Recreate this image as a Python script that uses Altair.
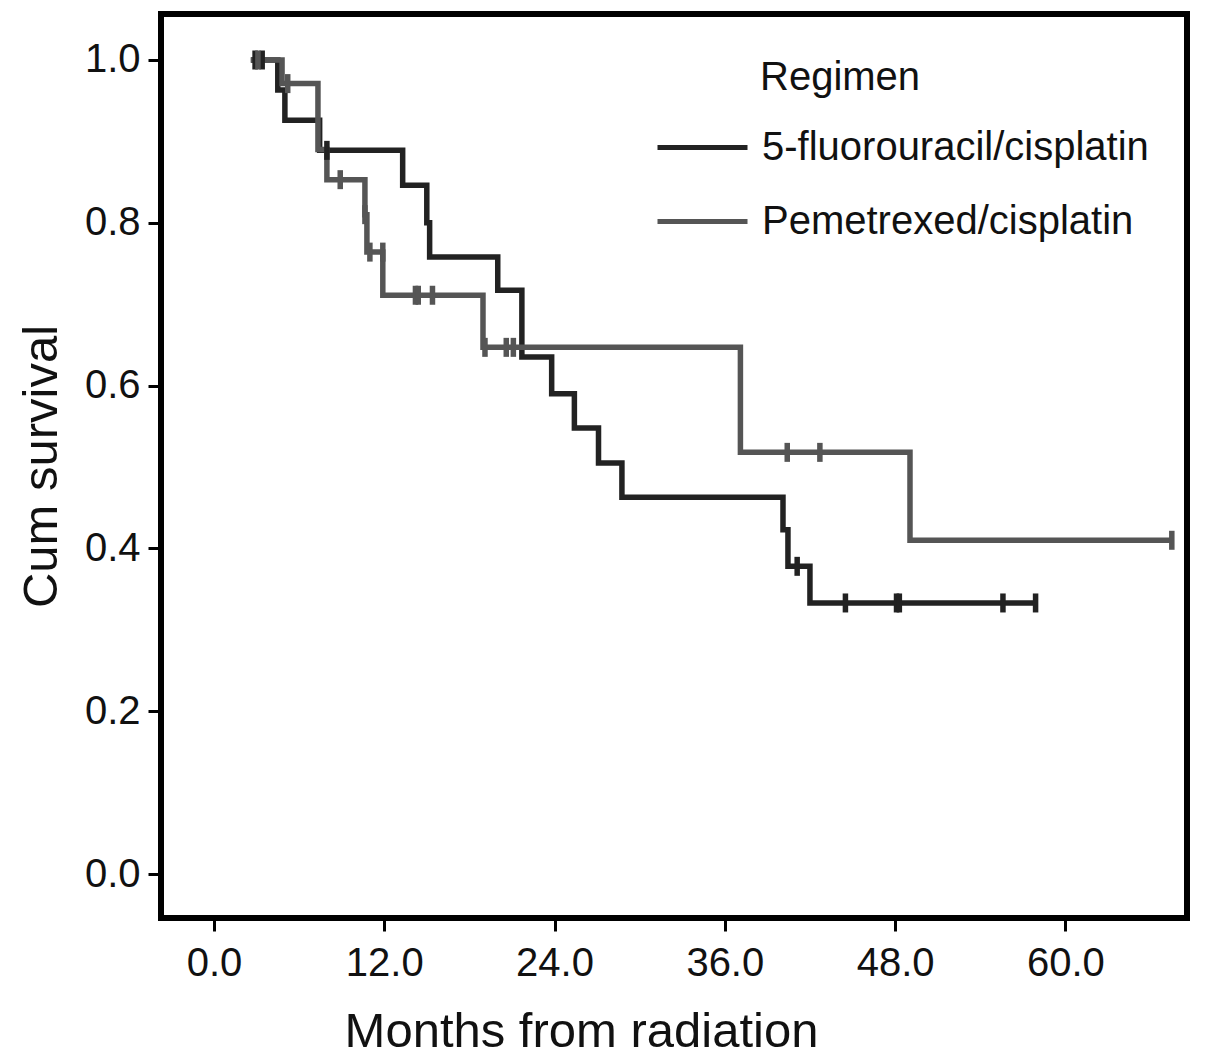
import altair as alt
import pandas as pd

# ---- data ----
groups = ["5-fluorouracil/cisplatin", "Pemetrexed/cisplatin"]

fu_times = [2.6, 4.5, 5.0, 7.45, 13.3, 15.0, 15.2, 20.0, 21.7, 23.8, 25.4, 27.1, 28.75, 40.1, 40.45, 42.0, 57.9]
fu_surv = [1.0, 0.963, 0.926, 0.889, 0.846, 0.800, 0.758, 0.717, 0.635, 0.590, 0.548, 0.505, 0.463, 0.423, 0.378, 0.333, 0.333]
fu_cens_t = [2.9, 3.4, 7.96, 41.1, 44.5, 48.1, 48.3, 55.6, 57.9]
fu_cens_s = [1.0, 1.0, 0.889, 0.378, 0.333, 0.333, 0.333, 0.333, 0.333]

pem_times = [2.6, 4.8, 7.33, 7.96, 10.64, 10.78, 11.9, 18.96, 37.1, 49.05, 67.5]
pem_surv = [1.0, 0.971, 0.890, 0.853, 0.810, 0.764, 0.711, 0.647, 0.518, 0.410, 0.410]
pem_cens_t = [3.1, 5.2, 8.9, 10.64, 10.99, 11.9, 14.2, 14.4, 15.4, 19.1, 20.6, 21.1, 40.4, 42.7, 67.5]
pem_cens_s = [1.0, 0.971, 0.853, 0.810, 0.764, 0.764, 0.711, 0.711, 0.711, 0.647, 0.647, 0.647, 0.518, 0.518, 0.410]

x_ticks = [0, 12, 24, 36, 48, 60]
y_ticks = [0.0, 0.2, 0.4, 0.6, 0.8, 1.0]
colors = ["#222222", "#555555"]

lines = pd.DataFrame({
    "t": fu_times + pem_times,
    "s": fu_surv + pem_surv,
    "g": [groups[0]] * len(fu_times) + [groups[1]] * len(pem_times),
    "o": list(range(len(fu_times))) + list(range(len(pem_times))),
})
cens = pd.DataFrame({
    "t": fu_cens_t + pem_cens_t,
    "s": fu_cens_s + pem_cens_s,
    "g": [groups[0]] * len(fu_cens_t) + [groups[1]] * len(pem_cens_t),
})

xs = alt.Scale(domain=[-3.73, 68.57], nice=False, zero=False)
ys = alt.Scale(domain=[-0.054, 1.0565], nice=False, zero=False)
cs = alt.Scale(domain=groups, range=colors)

FONT = "Liberation Sans"

line = alt.Chart(lines).mark_line(interpolate="step-after", strokeWidth=5.5, clip=True).encode(
    x=alt.X("t:Q", scale=xs,
            axis=alt.Axis(title="Months from radiation", values=x_ticks, format=".1f")),
    y=alt.Y("s:Q", scale=ys,
            axis=alt.Axis(title="Cum survival", values=y_ticks, format=".1f")),
    color=alt.Color("g:N", scale=cs, legend=alt.Legend(
        title=None, orient="none", legendX=494, legendY=86,
        symbolType="stroke", symbolSize=8100, symbolStrokeWidth=5,
        labelFontSize=40, labelFont=FONT, labelColor="#111111",
        labelOffset=12, rowPadding=6, labelLimit=600)),
    order="o:Q",
)

ticks = alt.Chart(cens).mark_point(shape="M0,-1V1", size=361, strokeWidth=5.5, filled=False, opacity=1).encode(
    x=alt.X("t:Q", scale=xs),
    y=alt.Y("s:Q", scale=ys),
    color=alt.Color("g:N", scale=cs, legend=None),
)

title_df = pd.DataFrame({"label": ["Regimen"]})
legend_title = alt.Chart(title_df).mark_text(
    align="left", baseline="middle", fontSize=40, font=FONT, color="#111111"
).encode(x=alt.value(599), y=alt.value(64), text="label:N")

chart = alt.layer(line, ticks, legend_title).properties(
    width=1026, height=904,
    autosize=alt.AutoSizeParams(type="none"),
    padding={"left": 153, "top": 6, "right": 10, "bottom": 146},
).configure_view(
    stroke="black", strokeWidth=6
).configure_axis(
    grid=False, domain=False, ticks=True, tickSize=13, tickWidth=3, tickColor="black",
    labelFont=FONT, labelFontSize=40, labelColor="#111111",
    titleFont=FONT, titleFontSize=49, titleFontWeight="normal", titleColor="#111111",
).configure_axisX(
    labelPadding=12, titlePadding=24, titleX=420
).configure_axisY(
    labelPadding=8, titlePadding=18
)

chart.save("out.html", embed_options={"renderer": "svg", "actions": False})
